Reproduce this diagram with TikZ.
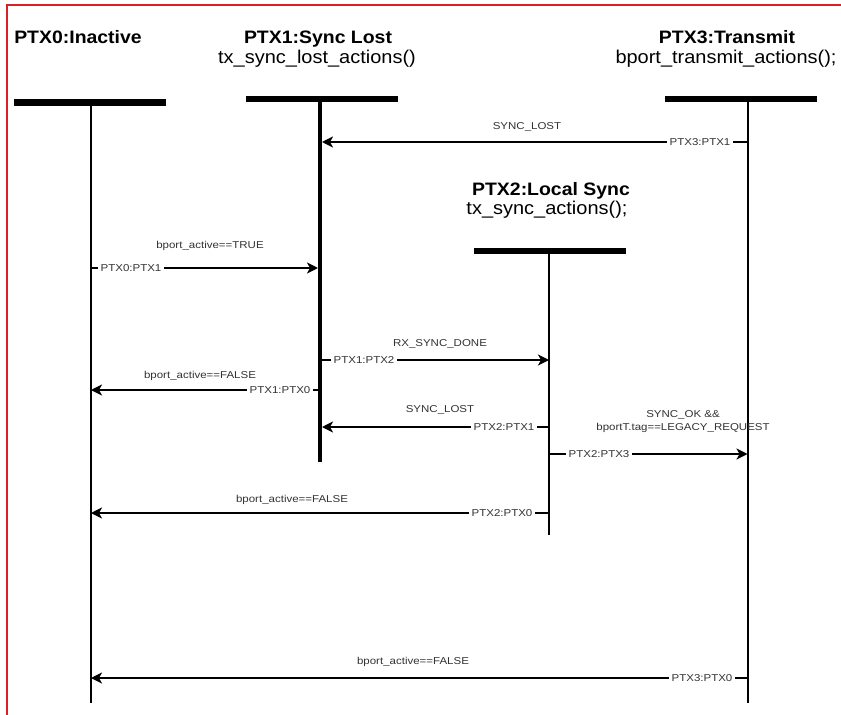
\documentclass[tikz,border=0pt]{standalone}
\usepackage{fontspec}
\setmainfont{Liberation Sans}
\newfontfamily\smallfont[FakeStretch=1.15]{Liberation Sans}
\newfontfamily\headfont[FakeStretch=1.08]{Liberation Sans}
\usetikzlibrary{arrows.meta}
\definecolor{framered}{RGB}{220,30,40}
\begin{document}
\begin{tikzpicture}[x=1pt,y=-1pt,
  headtitle/.style={font=\headfont\bfseries\fontsize{18}{20}\selectfont, anchor=base, inner sep=0pt},
  headsub/.style={font=\headfont\fontsize{18.5}{20}\selectfont, anchor=base, inner sep=0pt},
  lifebar/.style={fill=black, draw=none, minimum width=152pt, minimum height=6.5pt, inner sep=0pt},
  lifeline/.style={line width=2pt},
  msg/.style={line width=2pt, -{Stealth[length=11pt,width=11pt,inset=3pt]}},
  msgtag/.style={font=\smallfont\fontsize{10}{12}\selectfont, fill=white, inner sep=2.5pt, text=black!80},
  msgguard/.style={font=\smallfont\fontsize{10}{13}\selectfont, text=black!80, align=center, inner sep=0pt}]
\useasboundingbox (0,0) rectangle (841,715);
\fill[white] (0,0) rectangle (841,715);
\draw[framered, line width=2.5pt] (7,715) -- (7,5) -- (841,5);

% headers
\node[headtitle] (t0) at (78,43) {PTX0:Inactive};
\node[headtitle] (t1) at (318,43) {PTX1:Sync Lost};
\node[headsub] (s1) at (317,63) {tx\_sync\_lost\_actions()};
\node[headtitle] (t3) at (727,43) {PTX3:Transmit};
\node[headsub] (s3) at (726,63) {bport\_transmit\_actions();};
\node[headtitle] (t2) at (551,195) {PTX2:Local Sync};
\node[headsub] (s2) at (547,214) {tx\_sync\_actions();};

% bars
\node[lifebar] (b0) at (90,102.5) {};
\node[lifebar] (b1) at (322,99) {};
\node[lifebar] (b3) at (741,99) {};
\node[lifebar] (b2) at (550,251) {};

% lifelines
\coordinate (e0) at (91,703);
\coordinate (e1) at (320,462);
\coordinate (e3) at (747.5,703);
\coordinate (e2) at (549,535);
\draw[lifeline] (b0.south -| e0) -- (e0);
\draw[lifeline, line width=4pt] (b1.south -| e1) -- (e1);
\draw[lifeline] (b3.south -| e3) -- (e3);
\draw[lifeline] (b2.south -| e2) -- (e2);

% message end points
\coordinate (m1a) at (747.5,142); \coordinate (m1b) at (322,142);
\coordinate (m2a) at (91,268);    \coordinate (m2b) at (318,268);
\coordinate (m3a) at (322,360);   \coordinate (m3b) at (549,360);
\coordinate (m4a) at (318,390);   \coordinate (m4b) at (91,390);
\coordinate (m5a) at (549,427);   \coordinate (m5b) at (322,427);
\coordinate (m6a) at (549,454);   \coordinate (m6b) at (747.5,454);
\coordinate (m7a) at (549,513);   \coordinate (m7b) at (91,513);
\coordinate (m8a) at (747.5,678); \coordinate (m8b) at (91,678);

\draw[msg] (m1a) -- (m1b);
\draw[msg] (m2a) -- (m2b);
\draw[msg] (m3a) -- (m3b);
\draw[msg] (m4a) -- (m4b);
\draw[msg] (m5a) -- (m5b);
\draw[msg] (m6a) -- (m6b);
\draw[msg] (m7a) -- (m7b);
\draw[msg] (m8a) -- (m8b);

% transition tags
\node[msgtag] (l1) at (700,142) {PTX3:PTX1};
\node[msgtag] (l2) at (131,268) {PTX0:PTX1};
\node[msgtag] (l3) at (364,360) {PTX1:PTX2};
\node[msgtag] (l4) at (280,390) {PTX1:PTX0};
\node[msgtag] (l5) at (504,427) {PTX2:PTX1};
\node[msgtag] (l6) at (599,454) {PTX2:PTX3};
\node[msgtag] (l7) at (502,513) {PTX2:PTX0};
\node[msgtag] (l8) at (702,678) {PTX3:PTX0};

% guards
\node[msgguard] (g1) at (527,127) {SYNC\_LOST};
\node[msgguard] (g2) at (210,246) {bport\_active==TRUE};
\node[msgguard] (g3) at (440,344) {RX\_SYNC\_DONE};
\node[msgguard] (g4) at (200,376) {bport\_active==FALSE};
\node[msgguard] (g5) at (440,410) {SYNC\_LOST};
\node[msgguard] (g6) at (683,422) {SYNC\_OK \&\&\\bportT.tag==LEGACY\_REQUEST};
\node[msgguard] (g7) at (292,500) {bport\_active==FALSE};
\node[msgguard] (g8) at (413,662) {bport\_active==FALSE};
\end{tikzpicture}
\end{document}
